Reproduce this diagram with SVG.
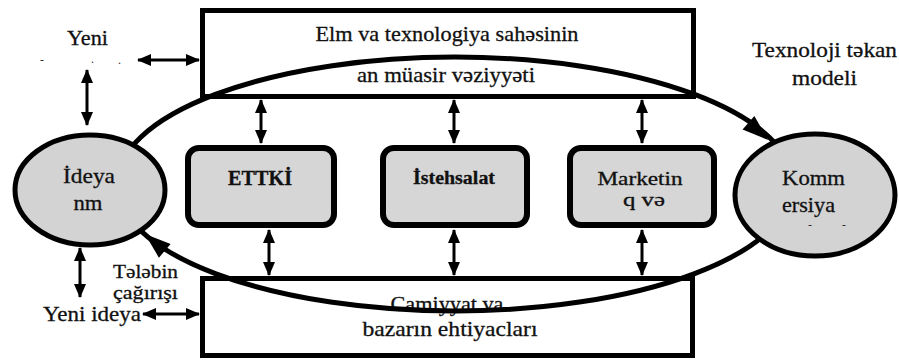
<svg xmlns="http://www.w3.org/2000/svg" width="899" height="362" viewBox="0 0 899 362" font-family="Liberation Serif, DejaVu Serif, serif" font-size="21">
<defs>
<style>
.t{fill:#111;stroke:#111;stroke-width:0.3;}
.s{font-size:18px;}
.b{font-weight:bold;}
.box{fill:#fff;stroke:#000;stroke-width:5;}
.rb{fill:#d6d6d6;stroke:#000;stroke-width:6;}
.ov{fill:#d3d3d3;stroke:#000;stroke-width:5;}
.ln{stroke:#000;stroke-width:3;fill:none;marker-start:url(#ah);marker-end:url(#ah);}
.big{fill:none;stroke:#000;stroke-width:5;}
.dot{fill:#333;font-size:12px;}
</style>
<marker id="ah" markerUnits="userSpaceOnUse" markerWidth="14" markerHeight="12" refX="13" refY="6" orient="auto-start-reverse">
<path d="M0,0 L14,6 L0,12 z" fill="#000"/>
</marker>
</defs>
<rect width="899" height="362" fill="#fff"/>

<g id="top-box">
<rect class="box" x="202.5" y="10.5" width="491" height="86"/>
<text class="t" x="447" y="41" text-anchor="middle" textLength="263" lengthAdjust="spacingAndGlyphs">Elm va texnologiya sahəsinin</text>
<text class="t" x="446" y="82" text-anchor="middle" textLength="178" lengthAdjust="spacingAndGlyphs">an müasir vəziyyəti</text>
</g>

<g id="bottom-box">
<rect class="box" x="202.5" y="278.5" width="490" height="77"/>
<text class="t" x="447" y="311" text-anchor="middle" textLength="113" lengthAdjust="spacingAndGlyphs">Camiyyat va</text>
<text class="t" x="450" y="336" text-anchor="middle" textLength="175" lengthAdjust="spacingAndGlyphs">bazarın ehtiyacları</text>
</g>

<g id="connectors">
<ellipse class="big" cx="455" cy="184" rx="338" ry="127"/>
<polygon points="768,140 742.6,129.6 754.4,116.1" fill="#000"/>
<polygon points="145,234 170.6,244.1 158.9,257.7" fill="#000"/>
<line class="ln" x1="261" y1="100" x2="261" y2="143"/>
<line class="ln" x1="454" y1="100" x2="454" y2="143"/>
<line class="ln" x1="642" y1="100" x2="642" y2="143"/>
<line class="ln" x1="269" y1="230" x2="269" y2="275"/>
<line class="ln" x1="454" y1="230" x2="454" y2="275"/>
<line class="ln" x1="642" y1="230" x2="642" y2="275"/>
<line class="ln" x1="87" y1="70" x2="87" y2="125"/>
<line class="ln" x1="138" y1="60" x2="199" y2="60"/>
<line class="ln" x1="80" y1="248" x2="80" y2="297"/>
<line class="ln" x1="143" y1="314" x2="199" y2="314"/>
</g>

<g id="ettki">
<rect class="rb" x="188" y="148" width="146" height="77" rx="11"/>
<text class="t b" x="260" y="185" text-anchor="middle" textLength="64" lengthAdjust="spacingAndGlyphs">ETTKİ</text>
</g>

<g id="istehsalat">
<rect class="rb" x="383" y="148" width="144" height="77" rx="11"/>
<text class="t b s" x="454" y="184" text-anchor="middle" textLength="82" lengthAdjust="spacingAndGlyphs">İstehsalat</text>
</g>

<g id="marketing">
<rect class="rb" x="570" y="148" width="144" height="77" rx="11"/>
<text class="t s" x="640" y="185" text-anchor="middle" textLength="85" lengthAdjust="spacingAndGlyphs">Marketin</text>
<text class="t s" x="644" y="206" text-anchor="middle" textLength="42" lengthAdjust="spacingAndGlyphs">q və</text>
</g>

<g id="ideya">
<ellipse class="ov" cx="90" cy="190" rx="75" ry="55"/>
<text class="t" x="89" y="183" text-anchor="middle" textLength="52" lengthAdjust="spacingAndGlyphs">İdeya</text>
<text class="t" x="88" y="210" text-anchor="middle" textLength="29" lengthAdjust="spacingAndGlyphs">nm</text>
</g>

<g id="kommersiya">
<ellipse class="ov" cx="815" cy="195" rx="80" ry="61"/>
<text class="t" x="782" y="185" textLength="63" lengthAdjust="spacingAndGlyphs">Komm</text>
<text class="t" x="782" y="212" textLength="53" lengthAdjust="spacingAndGlyphs">ersiya</text>
<text class="dot" x="808" y="229">-</text>
<text class="dot" x="842" y="229">-</text>
</g>

<g id="labels">
<text class="t" x="67" y="45" textLength="41" lengthAdjust="spacingAndGlyphs">Yeni</text>
<text class="dot" x="40" y="64">-</text>
<text class="dot" x="91" y="63">.</text>
<text class="dot" x="118" y="64">.</text>
<text class="t" x="752" y="57" textLength="145" lengthAdjust="spacingAndGlyphs">Texnoloji təkan</text>
<text class="t" x="792" y="85" textLength="65" lengthAdjust="spacingAndGlyphs">modeli</text>
<text class="t s" x="113" y="278" textLength="65" lengthAdjust="spacingAndGlyphs">Tələbin</text>
<text class="t s" x="113" y="299" textLength="65" lengthAdjust="spacingAndGlyphs">çağırışı</text>
<text class="t" x="43" y="321" textLength="98" lengthAdjust="spacingAndGlyphs">Yeni ideya</text>
</g>
</svg>
